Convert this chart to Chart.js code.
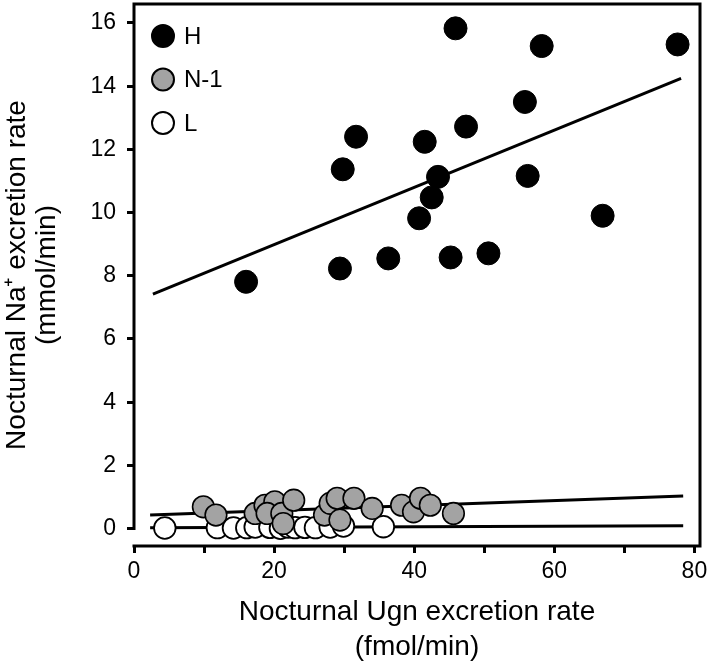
<!DOCTYPE html>
<html>
<head>
<meta charset="utf-8">
<script src="https://cdn.jsdelivr.net/npm/chart.js@4"></script>
<style>
body{margin:0;background:#fff}
</style>
</head>
<body>
<canvas id="chart" width="709" height="664"></canvas>
<script>

/* data */

const hX = [16.0, 29.4, 36.3, 29.8, 31.7, 40.7, 41.5, 45.9, 58.2, 77.6, 55.8, 47.4, 43.4, 42.5, 56.2, 66.9, 45.2, 50.6]
const hY = [7.81, 8.23, 8.55, 11.37, 12.40, 9.82, 12.24, 15.83, 15.27, 15.32, 13.50, 12.72, 11.13, 10.48, 11.16, 9.90, 8.58, 8.71]

const nX = [9.9, 11.7, 17.3, 18.7, 20.1, 19.0, 21.1, 21.3, 22.8, 27.2, 28.0, 29.0, 29.4, 31.4, 34.0, 38.2, 39.9, 40.9, 42.3, 45.6]
const nY = [0.69, 0.43, 0.48, 0.74, 0.85, 0.48, 0.48, 0.16, 0.90, 0.43, 0.80, 0.96, 0.27, 0.96, 0.64, 0.74, 0.53, 0.96, 0.74, 0.48]

const lX = [4.4, 11.9, 14.2, 16.1, 17.3, 19.4, 20.9, 22.0, 23.0, 24.4, 25.9, 28.0, 29.9, 35.6]
const lY = [0.02, 0.03, 0.02, 0.03, 0.05, 0.04, 0.01, 0.05, 0.03, 0.04, 0.03, 0.05, 0.08, 0.06]

/* regression lines (end points) */
const hFitX = [2.7, 78.1]
const hFitY = [7.42, 14.25]
const nFitX = [2.3, 78.4]
const nFitY = [0.43, 1.03]
const lFitX = [2.3, 78.4]
const lFitY = [0.03, 0.09]

const groupNames = ["H", "N-1", "L"]

const xTicks = [0, 10, 20, 30, 40, 50, 60, 70, 80]
const xTickLabels = ["0", "", "20", "", "40", "", "60", "", "80"]
const yTicks = [0, 2, 4, 6, 8, 10, 12, 14, 16]

const xTitle = ["Nocturnal Ugn excretion rate", "(fmol/min)"]
const yTitle = ["Nocturnal Na\u207A excretion rate", "(mmol/min)"]

const FONT = "'Liberation Sans', Arial, Helvetica, sans-serif"
const LW = 3

function pts(xs, ys){
return xs.map((x,i)=>({x:x, y:ys[i]}))
}

function fitLine(xs, ys){
return {
type:"line",
data:pts(xs, ys),
borderColor:"#000",
borderWidth:LW,
pointRadius:0,
fill:false,
showLine:true
}
}

/* frame: left axis stops at y=0, x axis runs the full width */

const framePlugin = {
id:"frame",
afterDatasetsDraw(chart){
const {ctx, chartArea:a, scales} = chart
const y0 = scales.y.getPixelForValue(0)
ctx.save()
ctx.strokeStyle = "#000"
ctx.lineWidth = LW
ctx.lineCap = "square"
ctx.beginPath()
ctx.moveTo(a.left, y0)
ctx.lineTo(a.left, a.top)
ctx.lineTo(a.right, a.top)
ctx.lineTo(a.right, a.bottom)
ctx.lineTo(a.left, a.bottom)
ctx.stroke()
ctx.restore()
}
}

/* legend inside the plot, top left */

const legendPlugin = {
id:"insideLegend",
afterDraw(chart){
const {ctx, chartArea:a} = chart
ctx.save()
ctx.font = "24px " + FONT
ctx.textBaseline = "middle"
ctx.textAlign = "left"
for(let i=0;i<3;i++){
const ds = chart.data.datasets[i]
const cx = a.left + 29
const cy = a.top + 32 + i*43.5
ctx.beginPath()
ctx.arc(cx, cy, 11, 0, Math.PI*2)
ctx.fillStyle = ds.backgroundColor
ctx.fill()
ctx.lineWidth = 2
ctx.strokeStyle = "#000"
ctx.stroke()
ctx.fillStyle = "#000"
ctx.fillText(ds.label, cx + 21, cy + 1)
}
ctx.restore()
}
}

new Chart(document.getElementById("chart"),{

type:"scatter",

data:{
datasets:[
{
label:groupNames[0],
data:pts(hX, hY),
backgroundColor:"#000",
borderColor:"#000",
borderWidth:1,
pointRadius:11.5,
pointHoverRadius:11.5
},
{
label:groupNames[1],
data:pts(nX, nY),
backgroundColor:"#a3a3a3",
borderColor:"#000",
borderWidth:1.6,
pointRadius:10.8,
pointHoverRadius:10.8
},
{
label:groupNames[2],
data:pts(lX, lY),
backgroundColor:"#fff",
borderColor:"#000",
borderWidth:1.8,
pointRadius:10.8,
pointHoverRadius:10.8
},
fitLine(hFitX, hFitY),
fitLine(nFitX, nFitY),
fitLine(lFitX, lFitY)
]
},

options:{
responsive:false,
animation:false,
events:[],
layout:{
autoPadding:false,
padding:{top:4, right:9, left:0, bottom:0}
},
plugins:{
legend:{display:false},
tooltip:{enabled:false}
},
scales:{
x:{
type:"linear",
min:0,
max:80.8,
afterBuildTicks:(s)=>{ s.ticks = xTicks.map(v=>({value:v})) },
afterFit:(s)=>{ s.height = 118; s.paddingLeft = 0; s.paddingRight = 0 },
border:{display:false},
grid:{
drawOnChartArea:false,
drawTicks:true,
tickLength:7,
tickWidth:LW,
tickColor:"#000"
},
ticks:{
autoSkip:false,
maxRotation:0,
padding:5,
color:"#000",
font:{family:FONT, size:23},
callback:(v, i)=>xTickLabels[i]
},
title:{
display:true,
text:xTitle,
color:"#000",
font:{family:FONT, size:28, lineHeight:1.22},
padding:{top:0, bottom:0}
}
},
y:{
type:"linear",
min:-0.55,
max:16.6,
afterBuildTicks:(s)=>{ s.ticks = yTicks.map(v=>({value:v})) },
afterFit:(s)=>{ s.width = 134; s.paddingTop = 0; s.paddingBottom = 0 },
border:{display:false},
grid:{
drawOnChartArea:false,
drawTicks:true,
tickLength:7,
tickWidth:LW,
tickColor:"#000"
},
ticks:{
autoSkip:false,
padding:11,
color:"#000",
font:{family:FONT, size:23}
},
title:{
display:true,
text:yTitle,
color:"#000",
font:{family:FONT, size:28, lineHeight:1.05},
padding:{top:3, bottom:0}
}
}
}
},

plugins:[framePlugin, legendPlugin]

})

</script>
</body>
</html>
